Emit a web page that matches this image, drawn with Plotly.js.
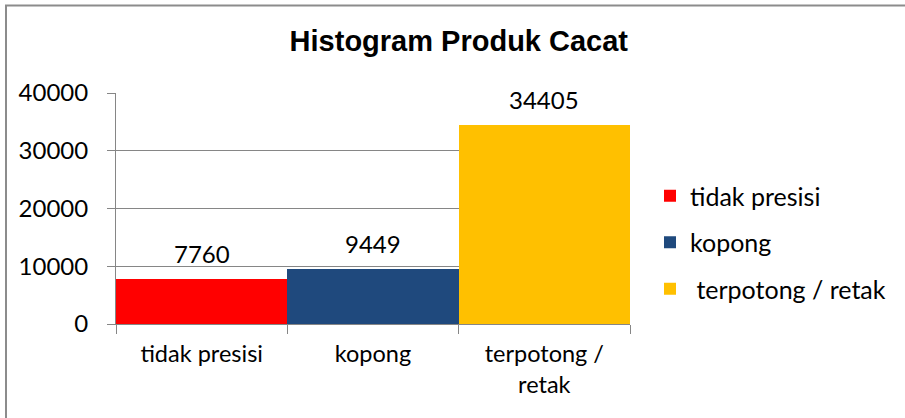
<!DOCTYPE html>
<html>
<head>
<meta charset="utf-8">
<script src="https://cdn.plot.ly/plotly-3.0.1.min.js"></script>
<style>
html,body{margin:0;padding:0;background:#fff;}
#chart{width:905px;height:418px;}
</style>
</head>
<body>
<div id="chart"></div>
<script>
var categories = ["tidak presisi", "kopong", "terpotong / retak"];
var tickLabels = ["tidak presisi", "kopong", "terpotong /<br>retak"];
var legendNames = ["tidak presisi", "kopong", "\u00a0terpotong / retak"];
var values = [7760, 9449, 34405];
var colors = ["#FF0000", "#1F497D", "#FFC000"];
var yTicks = [0, 10000, 20000, 30000, 40000];

var W = 905, H = 418;
var L = 116, R = 630, T = 93, B = 324;
var mainFont = "Lato, 'Open Sans', sans-serif";

var traces = categories.map(function (c, i) {
  return {
    type: "bar",
    x: [c],
    y: [values[i]],
    name: legendNames[i],
    legendgroup: "g" + i,
    width: 1,
    marker: { color: colors[i] },
    hoverinfo: "x+y"
  };
});

var annotations = categories.map(function (c, i) {
  return {
    x: c, y: values[i], xref: "x", yref: "y",
    text: String(values[i]),
    showarrow: false,
    yanchor: "bottom",
    yshift: 9,
    font: { family: mainFont, size: 24, color: "#000" }
  };
});

function px2x(p) { return (p - L) / (R - L); }
function px2y(p) { return (B - p) / (B - T); }

var layout = {
  width: W, height: H,
  margin: { l: L, r: W - R, t: T, b: H - B, pad: 0 },
  paper_bgcolor: "#fff",
  plot_bgcolor: "#fff",
  barmode: "overlay",
  bargap: 0,
  title: {
    text: "<b>Histogram Produk Cacat</b>",
    font: { family: "'Liberation Sans', Arial, sans-serif", size: 29, color: "#000" },
    x: 0.507, xref: "container", xanchor: "center",
    y: 1 - 41 / H, yref: "container", yanchor: "middle"
  },
  xaxis: {
    type: "category",
    categoryorder: "array",
    categoryarray: categories,
    tickvals: categories,
    ticktext: tickLabels,
    range: [-0.5, 2.5],
    tickson: "boundaries",
    ticks: "outside",
    ticklen: 9,
    tickcolor: "#868686",
    showgrid: false,
    showline: true,
    linecolor: "#868686",
    linewidth: 1,
    ticklabelstandoff: 9,
    tickfont: { family: mainFont, size: 23.5, color: "#000" },
    fixedrange: true
  },
  yaxis: {
    range: [0, 40000],
    tickvals: yTicks,
    ticktext: yTicks.map(String),
    ticks: "outside",
    ticklen: 8,
    tickcolor: "#868686",
    showgrid: true,
    gridcolor: "#868686",
    gridwidth: 1,
    zeroline: false,
    showline: true,
    linecolor: "#868686",
    linewidth: 1,
    ticklabelstandoff: 14,
    tickfont: { family: mainFont, size: 24, color: "#000" },
    fixedrange: true
  },
  showlegend: true,
  legend: {
    x: px2x(650), xanchor: "left",
    y: px2y(173), yanchor: "top",
    traceorder: "grouped",
    tracegroupgap: 11,
    font: { family: mainFont, size: 25, color: "#000" },
    bgcolor: "rgba(0,0,0,0)"
  },
  annotations: annotations,
  shapes: [{
    type: "rect", xref: "paper", yref: "paper",
    x0: px2x(6), x1: px2x(920),
    y0: px2y(430), y1: px2y(5.5),
    line: { color: "#8c8c8c", width: 2 },
    fillcolor: "rgba(0,0,0,0)",
    layer: "below"
  }]
};

Plotly.newPlot("chart", traces, layout, { displayModeBar: false, staticPlot: true });
</script>
</body>
</html>
